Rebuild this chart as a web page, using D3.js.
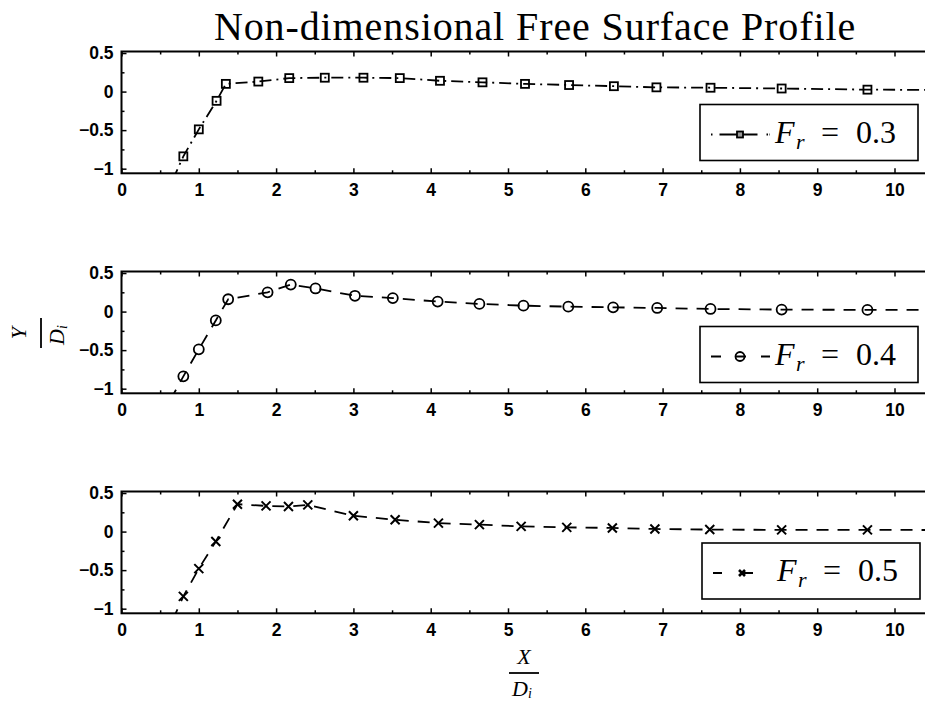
<!DOCTYPE html>
<html>
<head>
<meta charset="utf-8">
<script src="https://cdn.jsdelivr.net/npm/d3@7"></script>
<style>
  html, body { margin: 0; padding: 0; background: #fff; overflow: hidden; }
  svg { display: block; }
</style>
</head>
<body>
<div id="chart"></div>
<script>
// Non-dimensional free surface profile, three Froude numbers

const titleText = 'Non-dimensional Free Surface Profile';
const frLabels = ['0.3', '0.4', '0.5'];
const xTicks = [0, 1, 2, 3, 4, 5, 6, 7, 8, 9, 10];
const yTicks = [0.5, 0, -0.5, -1];
const yTickLabels = ['0.5', '0', '\u22120.5', '\u22121'];

// Fr = 0.3 (first point lies below the visible range, line enters from the bottom)
const fr03X = [0.66, 0.80, 1.00, 1.23, 1.35, 1.77, 2.17, 2.63, 3.13, 3.60, 4.12, 4.67, 5.22, 5.79, 6.37, 6.92, 7.62, 8.54, 9.65, 10.9];
const fr03Y = [-1.15, -0.84, -0.49, -0.12, 0.10, 0.13, 0.175, 0.18, 0.18, 0.175, 0.14, 0.12, 0.10, 0.085, 0.07, 0.055, 0.05, 0.04, 0.025, 0.02];

// Fr = 0.4
const fr04X = [0.63, 0.80, 1.00, 1.22, 1.38, 1.89, 2.19, 2.51, 3.02, 3.51, 4.09, 4.63, 5.20, 5.78, 6.36, 6.93, 7.62, 8.54, 9.65, 10.9];
const fr04Y = [-1.15, -0.84, -0.49, -0.115, 0.16, 0.25, 0.35, 0.30, 0.205, 0.175, 0.13, 0.10, 0.077, 0.064, 0.055, 0.047, 0.034, 0.026, 0.022, 0.02];

// Fr = 0.5
const fr05X = [0.66, 0.80, 1.00, 1.22, 1.50, 1.87, 2.16, 2.41, 3.00, 3.54, 4.10, 4.63, 5.17, 5.76, 6.35, 6.90, 7.61, 8.54, 9.65, 10.9];
const fr05Y = [-1.15, -0.84, -0.48, -0.128, 0.355, 0.333, 0.325, 0.346, 0.205, 0.154, 0.11, 0.09, 0.068, 0.055, 0.047, 0.034, 0.026, 0.022, 0.022, 0.02];

const W = 925, H = 701;
const PANEL = { left: 121.5, unit: 77.3, xMax: 11, height: 121.8 };
const panelTops = [51.5, 271.5, 491.5];
const legendPos = [[700, 53], [700, 55], [702, 51.5]];

const series = [
  { x: fr03X, y: fr03Y, marker: 'square', dash: '12,5,2,5', legendDash: '1.5,7,38,9,1.5' },
  { x: fr04X, y: fr04Y, marker: 'circle', dash: '12,9', legendDash: '10,15,10,15,10' },
  { x: fr05X, y: fr05Y, marker: 'cross', dash: '12,9', legendDash: '9,21,10,21,9' },
];

const svg = d3.select('#chart').append('svg')
  .attr('width', W)
  .attr('height', H);

svg.append('text')
  .attr('x', 535)
  .attr('y', 40)
  .attr('text-anchor', 'middle')
  .attr('font-family', '"Liberation Serif", "DejaVu Serif", serif')
  .attr('font-size', '40px')
  .attr('letter-spacing', '0.9px')
  .attr('fill', '#000')
  .text(titleText);

const x = d3.scaleLinear()
  .domain([0, PANEL.xMax])
  .range([PANEL.left, PANEL.left + PANEL.unit * PANEL.xMax]);

function drawMarker(g, type, cx, cy, size) {
  if (type === 'square') {
    return g.append('rect')
      .attr('x', cx - size / 2).attr('y', cy - size / 2)
      .attr('width', size).attr('height', size)
      .attr('fill', 'none').attr('stroke', '#000').attr('stroke-width', 1.8);
  }
  if (type === 'circle') {
    return g.append('circle')
      .attr('cx', cx).attr('cy', cy).attr('r', size / 2)
      .attr('fill', 'none').attr('stroke', '#000').attr('stroke-width', 1.8);
  }
  const h = size / 2;
  return g.append('path')
    .attr('d', `M${cx - h},${cy - h}L${cx + h},${cy + h}M${cx - h},${cy + h}L${cx + h},${cy - h}`)
    .attr('fill', 'none').attr('stroke', '#000').attr('stroke-width', 2);
}

series.forEach((s, i) => {
  const top = panelTops[i];
  const g = svg.append('g').attr('transform', `translate(0,${top})`);

  const y = d3.scaleLinear()
    .domain([-1.06, 0.52])
    .range([PANEL.height, 0]);

  const clipId = `clip${i}`;
  g.append('clipPath').attr('id', clipId)
    .append('rect')
    .attr('x', PANEL.left).attr('y', 0)
    .attr('width', PANEL.unit * PANEL.xMax).attr('height', PANEL.height);

  // axes: major and minor ticks pointing inward
  const tickStyle = sel => {
    sel.select('.domain').remove();
    sel.selectAll('.tick line').attr('stroke', '#000').attr('stroke-width', 1.5);
    sel.selectAll('text')
      .attr('font-family', '"Liberation Sans", Arial, sans-serif')
      .attr('font-weight', 'bold')
      .attr('font-size', '17.5px')
      .attr('fill', '#000');
  };

  g.append('g')
    .attr('transform', `translate(0,${PANEL.height})`)
    .call(d3.axisBottom(x).tickValues(xTicks).tickSize(-5).tickPadding(10).tickFormat(d3.format('d')))
    .call(tickStyle);
  g.append('g')
    .attr('transform', `translate(0,${PANEL.height})`)
    .call(d3.axisBottom(x).tickValues(d3.range(0.5, PANEL.xMax, 1)).tickSize(-3).tickFormat(''))
    .call(tickStyle);
  g.append('g')
    .call(d3.axisTop(x).tickValues(xTicks.concat([11])).tickSize(-5).tickFormat(''))
    .call(tickStyle);
  g.append('g')
    .call(d3.axisTop(x).tickValues(d3.range(0.5, PANEL.xMax, 1)).tickSize(-3).tickFormat(''))
    .call(tickStyle);
  g.append('g')
    .attr('transform', `translate(${PANEL.left},0)`)
    .call(d3.axisLeft(y).tickValues(yTicks).tickSize(-5).tickPadding(8)
      .tickFormat((d, k) => yTickLabels[k]))
    .call(tickStyle);
  g.append('g')
    .attr('transform', `translate(${PANEL.left},0)`)
    .call(d3.axisLeft(y).tickValues([0.25, -0.25, -0.75]).tickSize(-3).tickFormat(''))
    .call(tickStyle);

  // data
  const pts = s.x.map((v, k) => [v, s.y[k]]);
  const plot = g.append('g').attr('clip-path', `url(#${clipId})`);
  plot.append('path')
    .datum(pts)
    .attr('d', d3.line().x(d => x(d[0])).y(d => y(d[1])))
    .attr('fill', 'none')
    .attr('stroke', '#000')
    .attr('stroke-width', 1.8)
    .attr('stroke-dasharray', s.dash);
  pts.forEach(d => {
    const size = s.marker === 'circle' ? 10 : (s.marker === 'square' ? 8 : 9);
    drawMarker(plot, s.marker, x(d[0]), y(d[1]), size);
  });

  // frame
  g.append('rect')
    .attr('x', PANEL.left).attr('y', 0)
    .attr('width', PANEL.unit * PANEL.xMax).attr('height', PANEL.height)
    .attr('fill', 'none').attr('stroke', '#000').attr('stroke-width', 2);

  // legend
  const [bx, byRel] = legendPos[i];
  const by = top + byRel;
  const lg = svg.append('g');
  lg.append('rect')
    .attr('x', bx).attr('y', by).attr('width', 218).attr('height', 56)
    .attr('fill', '#fff').attr('stroke', '#000').attr('stroke-width', 1.6);
  const ly = by + 30;
  lg.append('line')
    .attr('x1', bx + 11).attr('x2', bx + 70).attr('y1', ly).attr('y2', ly)
    .attr('stroke', '#000').attr('stroke-width', 1.8)
    .attr('stroke-dasharray', s.legendDash);
  const lm = drawMarker(lg, s.marker, bx + 40, ly, s.marker === 'circle' ? 9 : 6);
  if (s.marker === 'square') lm.attr('fill', '#999');
  if (s.marker === 'cross') lm.attr('stroke-width', 2.6);

  const t = lg.append('text')
    .attr('y', by + 38)
    .attr('font-family', '"Liberation Serif", "DejaVu Serif", serif')
    .attr('font-size', '32px')
    .attr('fill', '#000');
  t.append('tspan').attr('x', bx + 75).attr('font-style', 'italic').text('F');
  t.append('tspan').attr('x', bx + 96).attr('dy', 6).attr('font-style', 'italic')
    .attr('font-size', '22px').text('r');
  t.append('tspan').attr('x', bx + 121).attr('dy', -6).text('=');
  t.append('tspan').attr('x', bx + 156).text(frLabels[i]);
});

// axis labels as fractions
const labelFont = '"Liberation Serif", "DejaVu Serif", serif';

const yl = svg.append('g').attr('transform', 'translate(41,333) rotate(-90)');
yl.append('text').attr('x', 0).attr('y', -15).attr('text-anchor', 'middle')
  .attr('font-family', labelFont).attr('font-style', 'italic').attr('font-size', '22px').text('Y');
yl.append('line').attr('x1', -15).attr('x2', 15).attr('y1', 0).attr('y2', 0)
  .attr('stroke', '#000').attr('stroke-width', 1.8);
const yd = yl.append('text').attr('x', -2).attr('y', 23).attr('text-anchor', 'middle')
  .attr('font-family', labelFont).attr('font-style', 'italic').attr('font-size', '22px');
yd.append('tspan').text('D');
yd.append('tspan').attr('dy', 3).attr('font-size', '14px').text('i');

const xl = svg.append('g').attr('transform', 'translate(524,673)');
xl.append('text').attr('x', 0).attr('y', -9).attr('text-anchor', 'middle')
  .attr('font-family', labelFont).attr('font-style', 'italic').attr('font-size', '22px').text('X');
xl.append('line').attr('x1', -15).attr('x2', 15).attr('y1', 0).attr('y2', 0)
  .attr('stroke', '#000').attr('stroke-width', 1.8);
const xd = xl.append('text').attr('x', -2).attr('y', 23).attr('text-anchor', 'middle')
  .attr('font-family', labelFont).attr('font-style', 'italic').attr('font-size', '22px');
xd.append('tspan').text('D');
xd.append('tspan').attr('dy', 2).attr('font-size', '14px').text('i');
</script>
</body>
</html>
